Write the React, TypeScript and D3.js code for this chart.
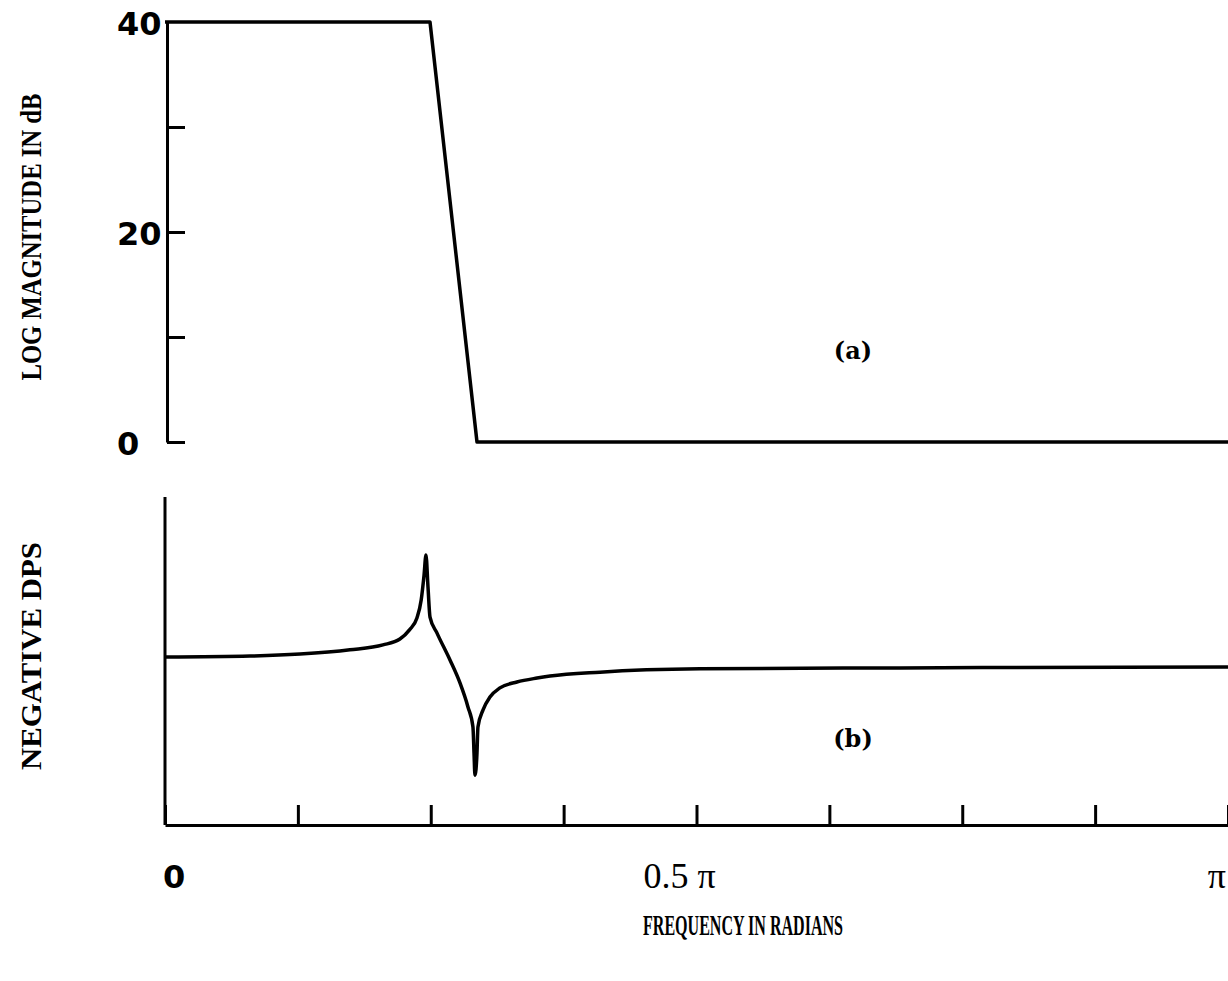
import React, {useEffect, useRef} from 'react';
import * as d3 from 'd3';

// frequency in units of pi
const magFreq = [0, 0.2493, 0.2935, 1.0];
const magDb = [40, 40, 0, 0];

const dpsFreq = [0, 0.080, 0.127, 0.174, 0.205, 0.221, 0.230, 0.237, 0.241, 0.2437, 0.2455,
    0.2474, 0.2493, 0.2559, 0.2681, 0.2775, 0.2850, 0.2897, 0.2907, 0.2916,
    0.2935, 0.2944, 0.2992, 0.3057, 0.3151, 0.3311, 0.3500, 0.3622, 0.4092, 0.5033, 0.6914, 1.0];
const dpsValue = [5.12, 5.15, 5.21, 5.34, 5.49, 5.67, 5.95, 6.31, 6.86, 7.62, 8.23,
    7.26, 6.34, 5.85, 5.03, 4.33, 3.60, 2.99, 2.20, 1.52,
    2.20, 2.99, 3.51, 3.90, 4.18, 4.36, 4.48, 4.54, 4.66, 4.76, 4.79, 4.82];

const magTicks = [0, 10, 20, 30];
const magLabels = ['0', '20', '40'];
const magLabelValues = [0, 20, 40];
const freqTicks = [0, 0.125, 0.25, 0.375, 0.5, 0.625, 0.75, 0.875, 1.0];
const freqLabelValues = [0, 0.5, 1.0];
const freqLabels = ['0', '0.5 π', 'π'];

export default function App() {
    const svgRef = useRef<SVGSVGElement>(null);

    useEffect(() => {
        const svg = d3.select(svgRef.current);
        svg.selectAll('*').remove();

        const x = d3.scaleLinear().domain([0, 1]).range([165, 1228]);
        const yTop = d3.scaleLinear().domain([0, 40]).range([442, 22]);
        const yBot = d3.scaleLinear().domain([0, 10]).range([825, 497]);

        // top panel axis
        const topAxis = svg.append('g')
            .attr('transform', 'translate(167,0)')
            .call(d3.axisRight(yTop).tickValues(magTicks).tickSize(18).tickSizeOuter(0).tickFormat(() => ''));
        topAxis.selectAll('path, line').attr('stroke', '#000').attr('stroke-width', 3);

        svg.selectAll('.maglabel')
            .data(magLabelValues)
            .enter()
            .append('text')
            .attr('x', 117)
            .attr('y', d => yTop(d) + 13)
            .attr('font-family', 'DejaVu Sans, sans-serif')
            .attr('font-weight', 'bold')
            .attr('font-size', 32)
            .text((d, i) => magLabels[i]);

        const magLine = d3.line<number>()
            .x((d, i) => x(magFreq[i]))
            .y(d => yTop(d));

        svg.append('path')
            .datum(magDb)
            .attr('fill', 'none')
            .attr('stroke', '#000')
            .attr('stroke-width', 3.5)
            .attr('stroke-linejoin', 'round')
            .attr('d', magLine);

        // bottom panel axes
        svg.append('line')
            .attr('x1', 165).attr('x2', 165)
            .attr('y1', yBot(0)).attr('y2', yBot(10))
            .attr('stroke', '#000').attr('stroke-width', 3);

        const xAxis = svg.append('g')
            .attr('transform', `translate(0,${yBot(0)})`)
            .call(d3.axisTop(x).tickValues(freqTicks).tickSize(20).tickSizeOuter(0).tickFormat(() => ''));
        xAxis.selectAll('path, line').attr('stroke', '#000').attr('stroke-width', 3);

        const dpsLine = d3.line<number>()
            .x((d, i) => x(dpsFreq[i]))
            .y(d => yBot(d))
            .curve(d3.curveMonotoneX);

        svg.append('path')
            .datum(dpsValue)
            .attr('fill', 'none')
            .attr('stroke', '#000')
            .attr('stroke-width', 3.5)
            .attr('d', dpsLine);

        // frequency labels
        const labelX = [x(0) - 2, x(0.5) - 17, x(1) - 2];
        const labelAnchor = ['start', 'middle', 'end'];
        svg.selectAll('.freqlabel')
            .data(freqLabelValues)
            .enter()
            .append('text')
            .attr('x', (d, i) => labelX[i])
            .attr('y', 888)
            .attr('text-anchor', (d, i) => labelAnchor[i])
            .attr('font-family', (d, i) => i === 0 ? 'DejaVu Sans, sans-serif' : 'Liberation Serif, serif')
            .attr('font-weight', (d, i) => i === 0 ? 'bold' : 'normal')
            .attr('font-size', (d, i) => i === 0 ? 32 : 36)
            .text((d, i) => freqLabels[i]);

        svg.append('text')
            .attr('x', 743)
            .attr('y', 935)
            .attr('text-anchor', 'middle')
            .attr('font-family', 'Liberation Serif, serif')
            .attr('font-weight', 'bold')
            .attr('font-size', 30)
            .attr('textLength', 200)
            .attr('lengthAdjust', 'spacingAndGlyphs')
            .text('FREQUENCY IN RADIANS');

        // y labels
        svg.append('text')
            .attr('transform', 'translate(41,237) rotate(-90)')
            .attr('text-anchor', 'middle')
            .attr('font-family', 'Liberation Serif, serif')
            .attr('font-weight', 'bold')
            .attr('font-size', 30)
            .attr('textLength', 287)
            .attr('lengthAdjust', 'spacingAndGlyphs')
            .text('LOG MAGNITUDE IN dB');

        svg.append('text')
            .attr('transform', 'translate(41,656) rotate(-90)')
            .attr('text-anchor', 'middle')
            .attr('font-family', 'Liberation Serif, serif')
            .attr('font-weight', 'bold')
            .attr('font-size', 30)
            .attr('textLength', 228)
            .attr('lengthAdjust', 'spacingAndGlyphs')
            .text('NEGATIVE DPS');

        // panel tags
        svg.append('text')
            .attr('x', 853).attr('y', 359)
            .attr('text-anchor', 'middle')
            .attr('font-family', 'DejaVu Serif, serif')
            .attr('font-weight', 'bold')
            .attr('font-size', 24)
            .text('(a)');

        svg.append('text')
            .attr('x', 853).attr('y', 747)
            .attr('text-anchor', 'middle')
            .attr('font-family', 'DejaVu Serif, serif')
            .attr('font-weight', 'bold')
            .attr('font-size', 24)
            .text('(b)');
    }, []);

    return (
        <div style={{position: 'absolute', left: 0, top: 0, background: '#fff'}}>
            <svg ref={svgRef} width={1228} height={981}></svg>
        </div>
    );
}
